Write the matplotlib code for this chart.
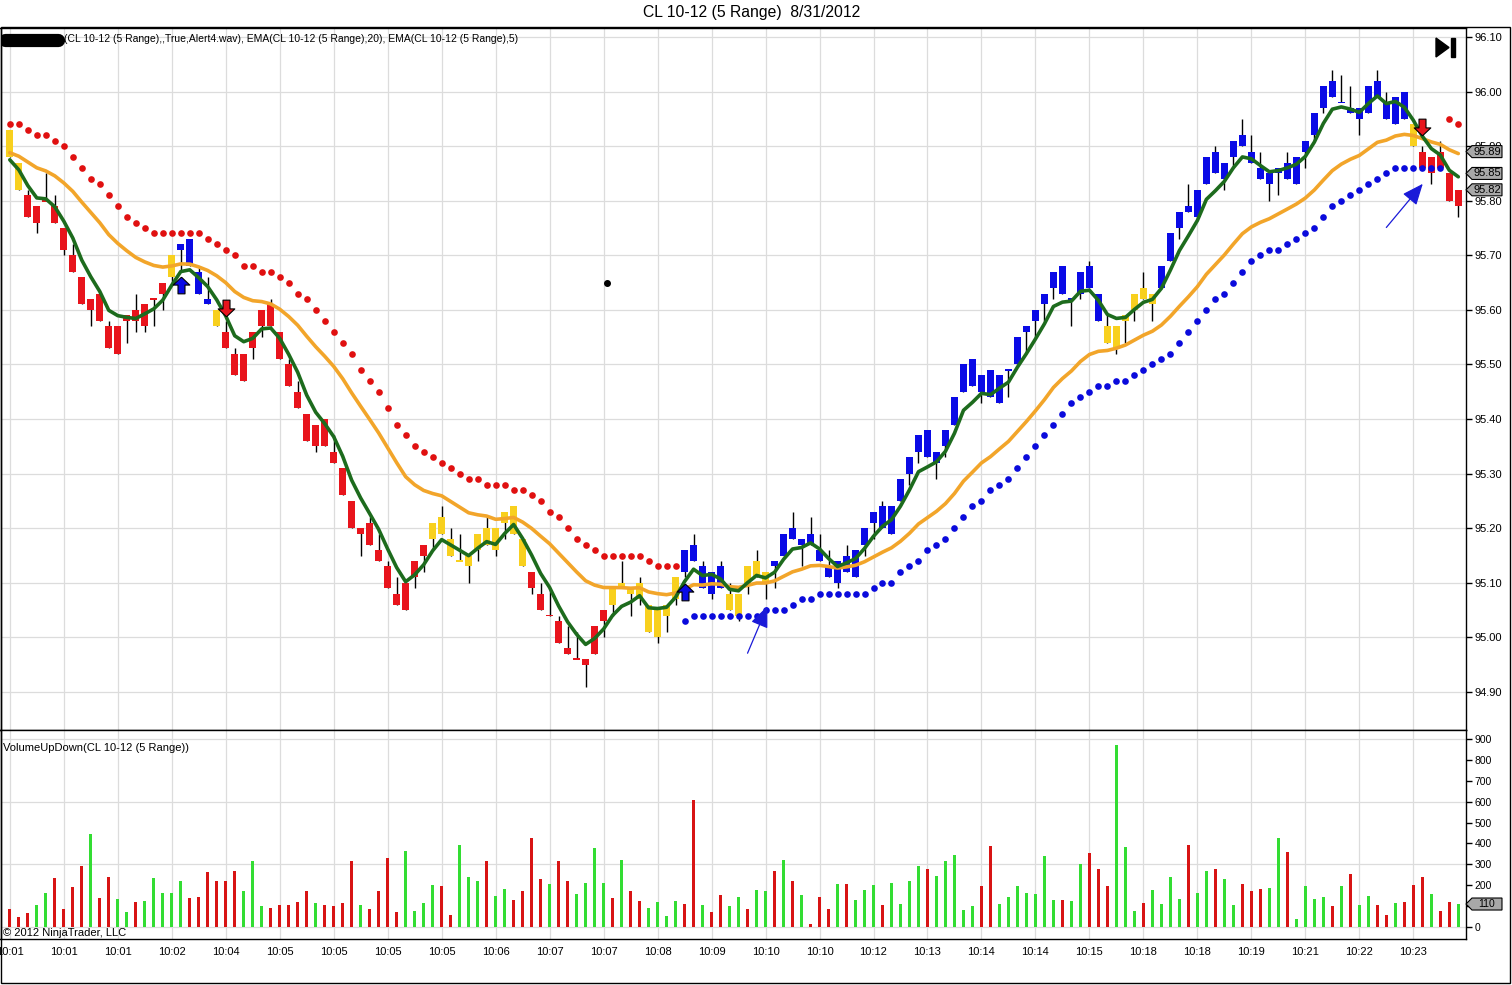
import numpy as np
import matplotlib
matplotlib.use('Agg')
import matplotlib.pyplot as plt
import matplotlib.transforms as mtransforms
from matplotlib.path import Path
from matplotlib.patches import Polygon, Rectangle

plt.rcParams['font.family'] = ['Liberation Sans', 'DejaVu Sans']

# ---- data (one entry per 5-range bar) ----
opens = [
    95.93, 95.87, 95.81, 95.79, 95.80, 95.79, 95.75, 95.70, 95.66, 95.62,
    95.63, 95.57, 95.52, 95.59, 95.60, 95.57, 95.62, 95.63, 95.66, 95.71,
    95.73, 95.67, 95.62, 95.60, 95.56, 95.52, 95.47, 95.53, 95.57, 95.61,
    95.56, 95.50, 95.45, 95.41, 95.39, 95.40, 95.34, 95.31, 95.25, 95.20,
    95.21, 95.16, 95.13, 95.08, 95.10, 95.11, 95.15, 95.18, 95.19, 95.18,
    95.14, 95.15, 95.16, 95.17, 95.20, 95.21, 95.19, 95.18, 95.12, 95.08,
    95.04, 95.03, 94.98, 94.96, 94.96, 94.97, 95.03, 95.06, 95.10, 95.09,
    95.07, 95.06, 95.00, 95.04, 95.07, 95.12, 95.14, 95.13, 95.08, 95.13,
    95.08, 95.04, 95.10, 95.11, 95.12, 95.13, 95.15, 95.18, 95.18, 95.17,
    95.16, 95.13, 95.14, 95.12, 95.11, 95.17, 95.21, 95.20, 95.19, 95.25,
    95.30, 95.34, 95.38, 95.32, 95.35, 95.39, 95.45, 95.51, 95.45, 95.49,
    95.43, 95.49, 95.50, 95.56, 95.58, 95.61, 95.64, 95.68, 95.62, 95.63,
    95.68, 95.63, 95.57, 95.53, 95.58, 95.60, 95.62, 95.61, 95.64, 95.69,
    95.75, 95.78, 95.77, 95.83, 95.89, 95.84, 95.88, 95.90, 95.89, 95.86,
    95.85, 95.85, 95.84, 95.83, 95.89, 95.92, 95.97, 95.99, 95.98, 95.97,
    95.97, 95.96, 95.99, 95.98, 95.94, 96.00, 95.94, 95.89, 95.88, 95.89,
    95.85, 95.79,
]
highs = [
    95.93, 95.87, 95.82, 95.79, 95.85, 95.81, 95.75, 95.72, 95.66, 95.62,
    95.63, 95.58, 95.57, 95.59, 95.63, 95.61, 95.62, 95.65, 95.70, 95.72,
    95.73, 95.68, 95.66, 95.60, 95.58, 95.53, 95.52, 95.56, 95.60, 95.62,
    95.56, 95.51, 95.47, 95.41, 95.39, 95.40, 95.37, 95.31, 95.25, 95.20,
    95.22, 95.19, 95.14, 95.11, 95.10, 95.14, 95.17, 95.21, 95.24, 95.20,
    95.19, 95.15, 95.19, 95.22, 95.20, 95.23, 95.24, 95.18, 95.12, 95.10,
    95.09, 95.04, 95.02, 95.01, 94.96, 95.02, 95.05, 95.09, 95.14, 95.09,
    95.11, 95.06, 95.05, 95.06, 95.11, 95.16, 95.19, 95.14, 95.12, 95.14,
    95.10, 95.08, 95.13, 95.16, 95.12, 95.14, 95.19, 95.23, 95.18, 95.22,
    95.19, 95.16, 95.14, 95.17, 95.16, 95.20, 95.23, 95.25, 95.24, 95.29,
    95.33, 95.37, 95.38, 95.34, 95.38, 95.44, 95.50, 95.51, 95.48, 95.49,
    95.48, 95.49, 95.55, 95.57, 95.60, 95.63, 95.67, 95.68, 95.62, 95.67,
    95.69, 95.63, 95.59, 95.57, 95.59, 95.63, 95.67, 95.63, 95.68, 95.74,
    95.78, 95.83, 95.82, 95.88, 95.90, 95.87, 95.91, 95.95, 95.92, 95.89,
    95.85, 95.86, 95.89, 95.88, 95.91, 95.96, 96.01, 96.04, 96.03, 96.01,
    95.97, 96.01, 96.04, 96.00, 95.99, 96.00, 95.94, 95.90, 95.88, 95.91,
    95.85, 95.82,
]
lows = [
    95.88, 95.82, 95.77, 95.74, 95.80, 95.76, 95.70, 95.67, 95.61, 95.57,
    95.58, 95.53, 95.52, 95.54, 95.56, 95.56, 95.57, 95.60, 95.65, 95.67,
    95.68, 95.63, 95.61, 95.57, 95.53, 95.48, 95.47, 95.51, 95.55, 95.57,
    95.51, 95.46, 95.42, 95.36, 95.34, 95.35, 95.32, 95.26, 95.20, 95.15,
    95.17, 95.14, 95.09, 95.06, 95.05, 95.09, 95.12, 95.16, 95.19, 95.15,
    95.14, 95.10, 95.14, 95.17, 95.15, 95.18, 95.19, 95.13, 95.08, 95.05,
    95.04, 94.99, 94.97, 94.96, 94.91, 94.97, 95.00, 95.04, 95.09, 95.04,
    95.06, 95.01, 94.99, 95.01, 95.06, 95.11, 95.14, 95.09, 95.07, 95.09,
    95.05, 95.03, 95.08, 95.11, 95.07, 95.09, 95.15, 95.18, 95.13, 95.17,
    95.14, 95.11, 95.09, 95.12, 95.11, 95.15, 95.18, 95.20, 95.19, 95.25,
    95.28, 95.32, 95.33, 95.29, 95.33, 95.39, 95.45, 95.46, 95.43, 95.44,
    95.43, 95.44, 95.50, 95.52, 95.55, 95.58, 95.62, 95.63, 95.57, 95.62,
    95.64, 95.58, 95.54, 95.52, 95.54, 95.58, 95.62, 95.58, 95.64, 95.69,
    95.73, 95.78, 95.77, 95.83, 95.85, 95.82, 95.86, 95.90, 95.87, 95.84,
    95.80, 95.81, 95.84, 95.83, 95.86, 95.91, 95.96, 95.99, 95.98, 95.96,
    95.92, 95.96, 95.99, 95.95, 95.94, 95.95, 95.90, 95.86, 95.83, 95.86,
    95.80, 95.77,
]
closes = [
    95.88, 95.82, 95.77, 95.76, 95.80, 95.76, 95.71, 95.67, 95.61, 95.60,
    95.58, 95.53, 95.57, 95.58, 95.58, 95.61, 95.62, 95.65, 95.70, 95.72,
    95.68, 95.63, 95.61, 95.57, 95.53, 95.48, 95.52, 95.56, 95.60, 95.57,
    95.51, 95.46, 95.42, 95.36, 95.35, 95.35, 95.32, 95.26, 95.20, 95.19,
    95.17, 95.14, 95.09, 95.06, 95.05, 95.14, 95.17, 95.21, 95.22, 95.15,
    95.14, 95.13, 95.19, 95.20, 95.16, 95.23, 95.24, 95.13, 95.09, 95.05,
    95.04, 94.99, 94.97, 94.96, 94.95, 95.02, 95.05, 95.09, 95.09, 95.08,
    95.10, 95.01, 95.05, 95.06, 95.11, 95.16, 95.17, 95.09, 95.12, 95.09,
    95.05, 95.08, 95.13, 95.14, 95.10, 95.14, 95.19, 95.20, 95.17, 95.19,
    95.14, 95.11, 95.10, 95.15, 95.16, 95.20, 95.23, 95.24, 95.24, 95.29,
    95.33, 95.37, 95.33, 95.34, 95.38, 95.44, 95.50, 95.46, 95.48, 95.44,
    95.48, 95.49, 95.55, 95.57, 95.60, 95.63, 95.67, 95.63, 95.62, 95.67,
    95.64, 95.58, 95.54, 95.57, 95.59, 95.63, 95.64, 95.63, 95.68, 95.74,
    95.78, 95.79, 95.82, 95.88, 95.85, 95.87, 95.91, 95.92, 95.87, 95.84,
    95.83, 95.86, 95.87, 95.88, 95.91, 95.96, 96.01, 96.02, 95.98, 95.96,
    95.95, 96.01, 96.02, 95.95, 95.99, 95.95, 95.90, 95.86, 95.85, 95.86,
    95.80, 95.82,
]
# paint-bar colour runs: Y yellow, R red, B blue
bar_color_runs = [('Y', 2), ('R', 16), ('Y', 1), ('B', 4), ('Y', 1), ('R', 23),
                  ('Y', 11), ('R', 9), ('Y', 8), ('B', 5), ('Y', 5), ('B', 37),
                  ('Y', 6), ('B', 28), ('Y', 1), ('R', 5)]

# trailing stop dots
stops = [
    95.94, 95.94, 95.93, 95.92, 95.92, 95.91, 95.90, 95.88, 95.86, 95.84,
    95.83, 95.81, 95.79, 95.77, 95.76, 95.75, 95.74, 95.74, 95.74, 95.74,
    95.74, 95.74, 95.73, 95.72, 95.71, 95.70, 95.68, 95.68, 95.67, 95.67,
    95.66, 95.65, 95.63, 95.62, 95.60, 95.58, 95.56, 95.54, 95.52, 95.49,
    95.47, 95.45, 95.42, 95.39, 95.37, 95.35, 95.34, 95.33, 95.32, 95.31,
    95.30, 95.29, 95.29, 95.28, 95.28, 95.28, 95.27, 95.27, 95.26, 95.25,
    95.23, 95.22, 95.20, 95.18, 95.17, 95.16, 95.15, 95.15, 95.15, 95.15,
    95.15, 95.14, 95.13, 95.13, 95.13, 95.03, 95.04, 95.04, 95.04, 95.04,
    95.04, 95.04, 95.04, 95.04, 95.05, 95.05, 95.05, 95.06, 95.07, 95.07,
    95.08, 95.08, 95.08, 95.08, 95.08, 95.08, 95.09, 95.10, 95.10, 95.12,
    95.13, 95.14, 95.16, 95.17, 95.18, 95.20, 95.22, 95.24, 95.25, 95.27,
    95.28, 95.29, 95.31, 95.33, 95.35, 95.37, 95.39, 95.41, 95.43, 95.44,
    95.45, 95.46, 95.46, 95.47, 95.47, 95.48, 95.49, 95.50, 95.51, 95.52,
    95.54, 95.56, 95.58, 95.60, 95.62, 95.63, 95.65, 95.67, 95.69, 95.70,
    95.71, 95.71, 95.72, 95.73, 95.74, 95.75, 95.77, 95.79, 95.80, 95.81,
    95.82, 95.83, 95.84, 95.85, 95.86, 95.86, 95.86, 95.86, 95.86, 95.86,
    95.95, 95.94,
]
stop_side_runs = [('S', 75), ('L', 85), ('S', 2)]

volume = [
    88, 48, 67, 106, 163, 235, 88, 192, 293, 446,
    139, 240, 136, 72, 122, 126, 235, 163, 163, 222,
    139, 144, 261, 218, 218, 270, 174, 318, 101, 93,
    107, 107, 122, 170, 117, 107, 102, 117, 314, 107,
    85, 170, 328, 74, 366, 78, 117, 202, 198, 58,
    394, 240, 222, 314, 150, 184, 131, 170, 424, 232,
    208, 314, 222, 160, 213, 379, 213, 141, 323, 174,
    126, 93, 122, 54, 126, 112, 610, 107, 74, 155,
    102, 146, 88, 179, 170, 270, 323, 222, 155, 16,
    146, 88, 208, 208, 131, 179, 203, 107, 213, 112,
    222, 290, 280, 246, 314, 347, 83, 102, 194, 386,
    110, 146, 194, 165, 158, 342, 131, 131, 126, 301,
    352, 280, 198, 870, 384, 78, 117, 179, 112, 237,
    136, 394, 165, 270, 280, 232, 107, 208, 170, 184,
    189, 427, 357, 40, 194, 136, 146, 102, 194, 256,
    107, 150, 107, 59, 117, 122, 203, 237, 160, 78,
    122, 110,
]
vol_dir = ("rrrggrrrrg" "rrggrggggg" "rrrrrrgggr" "rrrrgrrrrg"
           "rrrrggggrr" "gggrggrrrr" "grrggggrgr" "rggggrrgrr"
           "ggrggrgrgr" "rrgrgggrgg" "ggrgggggrr" "gggggggrgg"
           "rrrgggrggg" "grggrggrrr" "ggrggggrgr" "ggrrgrrrgr"
           "rg")

time_labels = ['10:01', '10:01', '10:01', '10:02', '10:04', '10:05', '10:05',
               '10:05', '10:05', '10:06', '10:07', '10:07', '10:08', '10:09',
               '10:10', '10:10', '10:12', '10:13', '10:14', '10:14', '10:15',
               '10:18', '10:18', '10:19', '10:21', '10:22', '10:23']

ema5_seed, ema20_seed = 95.875, 95.888
long_signals = [(19, 95.645), (75, 95.083)]
short_signals = [(24, 95.603), (157, 95.935)]
price_tags = [95.89, 95.85, 95.82]
last_volume_tag = 110


def expand(runs):
    return ''.join(c * k for c, k in runs)


def ema(vals, period, seed):
    k = 2.0 / (period + 1)
    out = [seed]
    for v in vals[1:]:
        out.append(out[-1] + k * (v - out[-1]))
    return np.array(out)


n = len(closes)
x = np.arange(n)
o, h, l, c = map(np.array, (opens, highs, lows, closes))
colors = expand(bar_color_runs)
sides = expand(stop_side_runs)
stops = np.array(stops)

CAND = {'R': '#e8141c', 'B': '#0a0ae6', 'Y': '#f8d01e'}
VOLC = {'r': '#d81414', 'g': '#33dd33'}
GRID = '#dcdcdc'

W, H = 1512, 985
fx = lambda px: px / W
fy = lambda py: 1 - py / H

fig = plt.figure(figsize=(W / 100, H / 100), dpi=100)
ax = fig.add_axes([fx(0.5), fy(730), fx(1466) - fx(0.5), fy(28) - fy(730)])
axv = fig.add_axes([fx(0.5), fy(939), fx(1466) - fx(0.5), fy(730) - fy(939)], sharex=ax)

# ---- price panel ----
body_lo = np.minimum(o, c)
body_hi = np.maximum(o, c)
body_h = np.maximum(body_hi - body_lo, 0.003)
ax.vlines(x, l, h, color='black', lw=1, zorder=2)
ax.bar(x, body_h, bottom=(body_lo + body_hi) / 2 - body_h / 2, width=0.76,
       color=[CAND[k] for k in colors], linewidth=0, zorder=3)

ax.plot(x, ema(closes, 20, ema20_seed), color='#f2a52a', lw=2.6, zorder=4,
        solid_capstyle='round')
ax.plot(x, ema(closes, 5, ema5_seed), color='#1d6b1d', lw=2.6, zorder=4,
        solid_capstyle='round')

short = np.array([s == 'S' for s in sides])
ax.plot(x[short], stops[short], 'o', color='#e01010', ms=4.8, mec='none', zorder=5)
ax.plot(x[~short], stops[~short], 'o', color='#0a0adc', ms=4.8, mec='none', zorder=5)

up_arrow = Path([(0, 1), (1, 0.05), (0.42, 0.05), (0.42, -1), (-0.42, -1),
                 (-0.42, 0.05), (-1, 0.05), (0, 1)])
down_arrow = Path([(0, -1), (1, -0.05), (0.42, -0.05), (0.42, 1), (-0.42, 1),
                   (-0.42, -0.05), (-1, -0.05), (0, -1)])
for b, p in long_signals:
    ax.plot(b, p, marker=up_arrow, ms=12, color='#0a0ae6', mec='black', mew=0.8, zorder=6)
for b, p in short_signals:
    ax.plot(b, p, marker=down_arrow, ms=12, color='#e8141c', mec='black', mew=0.8, zorder=6)

# hand drawn pointer arrows and stray dot
for (x0, y0), (x1, y1) in [((82.0, 94.971), (84.2, 95.057)),
                           ((153.0, 95.751), (157.05, 95.831))]:
    ax.annotate('', xy=(x1, y1), xytext=(x0, y0), zorder=7,
                arrowprops=dict(arrowstyle='-|>,head_length=1.3,head_width=0.55',
                                color='#1a1ad8', lw=0.9, shrinkA=0, shrinkB=0))
ax.plot(66.4, 95.65, 'o', color='black', ms=4, zorder=6)

ax.set_xlim(-9.3 / 9, (1466 - 9.3) / 9)
ax.set_ylim(96.10 - (730 - 37) / 545.8, 96.10 + (37 - 28) / 545.8)
ax.set_yticks(np.round(np.arange(94.90, 96.101, 0.10), 2))
ax.yaxis.set_major_formatter(plt.FormatStrFormatter('%.2f'))
ax.yaxis.tick_right()
ax.tick_params(axis='y', length=4, width=1, pad=2, labelsize=8)
ax.tick_params(axis='x', length=0, labelbottom=False)
ax.grid(color=GRID, lw=0.9)
ax.set_axisbelow(True)
for s in ax.spines.values():
    s.set_linewidth(1)

ax.text(64 / 1466, (730 - 39) / 702,
        '(CL 10-12 (5 Range),,True,Alert4.wav), EMA(CL 10-12 (5 Range),20), '
        'EMA(CL 10-12 (5 Range),5)', transform=ax.transAxes, fontsize=7.5,
        va='center', ha='left', zorder=8)
ax.plot([5 / 1466, 58 / 1466], [(730 - 39.5) / 702] * 2, transform=ax.transAxes,
        color='black', lw=9.5, solid_capstyle='round', zorder=8)

# play-to-end icon
ax.add_patch(Polygon([(1436 / 1466, (730 - 38) / 702), (1436 / 1466, (730 - 57) / 702),
                      (1449 / 1466, (730 - 47.5) / 702)], closed=True,
                     transform=ax.transAxes, color='black', zorder=8))
ax.add_patch(Rectangle((1451 / 1466, (730 - 57) / 702), 4 / 1466, 19 / 702,
                       transform=ax.transAxes, color='black', zorder=8))


def tag(axis, yval, text, half_h, size):
    tr = mtransforms.blended_transform_factory(axis.transAxes, axis.transData)
    a0, a1, a2 = 1.0, 1 + 6 / 1466, 1 + 36 / 1466
    axis.add_patch(Polygon([(a0, yval), (a1, yval + half_h), (a2, yval + half_h),
                            (a2, yval - half_h), (a1, yval - half_h)], closed=True,
                           transform=tr, facecolor='#a8a8a8', edgecolor='black',
                           lw=0.8, clip_on=False, zorder=10))
    axis.text(1 + 21 / 1466, yval, text, transform=tr, ha='center', va='center',
              fontsize=size, zorder=11, clip_on=False)


for v in price_tags:
    tag(ax, v, f'{v:.2f}', 6 / 545.8, 8)

# ---- volume panel ----
axv.bar(x, volume, width=0.34, color=[VOLC[k] for k in vol_dir], linewidth=0, zorder=3)
axv.set_ylim(-(939 - 927) / 0.2089, (927 - 730) / 0.2089)
axv.set_yticks(np.arange(0, 901, 100))
axv.yaxis.tick_right()
axv.tick_params(axis='y', length=4, width=1, pad=2, labelsize=7.5)
for g in range(0, 901, 300):
    axv.axhline(g, color=GRID, lw=0.9, zorder=1)
axv.grid(axis='x', color=GRID, lw=0.9)
axv.set_axisbelow(True)
axv.set_xticks(x[::6])
axv.set_xticklabels(time_labels)
axv.tick_params(axis='x', length=0, pad=6, labelsize=8)
for s in axv.spines.values():
    s.set_linewidth(1)
axv.text(3 / 1466, (939 - 748) / 209, 'VolumeUpDown(CL 10-12 (5 Range))',
         transform=axv.transAxes, fontsize=8, va='center', ha='left')
axv.text(3 / 1466, (939 - 933) / 209, '\u00a9 2012 NinjaTrader, LLC',
         transform=axv.transAxes, fontsize=8, va='center', ha='left')
tag(axv, last_volume_tag, str(last_volume_tag), 6 / 0.2089, 7.5)

fig.text(fx(752), fy(13), 'CL 10-12 (5 Range)  8/31/2012', ha='center',
         va='center', fontsize=11.3)
fig.add_artist(Rectangle((fx(0.5), fy(983)), fx(1510) - fx(0.5), fy(27) - fy(983),
                         transform=fig.transFigure, fill=False, edgecolor='black', lw=1))

fig.savefig('out.png', dpi=100)
